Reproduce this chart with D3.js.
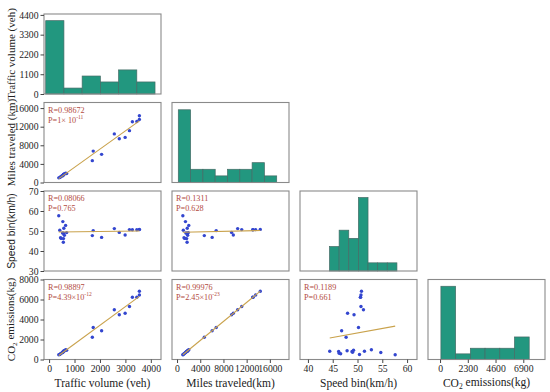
<!DOCTYPE html>
<html><head><meta charset="utf-8">
<script src="https://cdn.jsdelivr.net/npm/d3@7"></script>
<style>body{margin:0;background:#fff}svg{display:block}</style>
</head><body>
<svg id="c" width="550" height="392"></svg>
<script>
// ---- data ----
const traffic = [3550,3550,3450,3275,3160,2990,2760,2565,2065,1735,1700, 560,565,480,450,600,565,690,530,420,580,650,540,380];
const miles   = [14350,13550,13100,13050,11150,9700,9400,10450,6050,6750,4700, 1730,1650,1330,1200,1830,1680,1950,1520,1080,1760,2020,1450,1000];
const speed   = [50.8,50.7,50.6,50.6,50.7,48.0,49.3,51.2,46.8,50.2,47.7, 44.4,46.2,46.3,46.6,47.9,48.9,49.2,49.0,50.4,51.4,52.8,54.7,57.6];
const co2     = [6830,6450,6230,6230,5300,4630,4470,4970,2870,3200,2230, 830,800,630,570,870,800,930,730,500,830,970,700,470];

const varNames = ["Traffic volume (veh)", "Miles traveled (km)", "Speed bin(km/h)", "CO2 emissions(kg)"];
const xTitles  = ["Traffic volume (veh)", "Miles traveled(km)", "Speed bin(km/h)", "CO2 emissions(kg)"];

const xDomains = [[-200,4400],[-870,19300],[38.4,62],[-1000,8700]];
const yDomains = [[0,4450],[0,17200],[30,70],[0,8000]];
const xTicks = [[0,1000,2000,3000,4000],[0,4000,8000,12000,16000],[40,45,50,55,60],[0,2300,4600,6900]];
const yTicks = [[0,1100,2200,3300,4400],[0,4000,8000,12000,16000],[30,40,50,60,70],[0,2000,4000,6000,8000]];

// diagonal histograms
const histTraffic = [4080,330,1000,670,1340,670];
const histMiles   = [11,2,2,1,2,2,3,1];
const histSpeed   = [3,5,4,9,1,1,1];
const histCO2     = [13,1,2,2,2,4];
const histCounts = [histTraffic, histMiles, histSpeed, histCO2];
const histRange  = [[-133,4165],[216,17180],[44.35,57.95],[70,7390]];
const histYMax   = [4450, 12.1, 9.8, 14.2];

// correlation annotations  key "row-col"
const corrR = {"1-0":"0.98672","2-0":"0.08066","2-1":"0.1311","3-0":"0.98897","3-1":"0.99976","3-2":"0.1189"};
const corrP = {"1-0":["1× 10","-11"],"2-0":["0.765",""],"2-1":["0.628",""],"3-0":["4.39×10","-12"],"3-1":["2.45×10","-23"],"3-2":["0.661",""]};

// ---- layout ----
const colX = [44,172,300,428], W = 117;
const rowY = [14,102.5,191,279.5], H = 80;
const SERIF = "'Liberation Serif','Times New Roman',serif";
const SANS = "'Liberation Sans',Arial,sans-serif";
const HIST = "#22977f", HIST_EDGE = "#456b66", FRAME = "#8a8a8a";
const PT = "#3346cf", LINE = "#c9a24c", TXT = "#b24a3e";

const vars = [traffic, miles, speed, co2];
const svg = d3.select("#c");
const xs = xDomains.map((d,i)=>d3.scaleLinear().domain(d).range([colX[i], colX[i]+W]));
const ys = yDomains.map((d,i)=>d3.scaleLinear().domain(d).range([rowY[i]+H, rowY[i]]));

function addLabel(sel, str){
  const parts = str.split("CO2");
  if (parts.length === 1){ sel.text(str); return; }
  sel.append("tspan").text(parts[0] + "CO");
  sel.append("tspan").attr("font-size","0.65em").attr("dy","0.3em").text("2");
  sel.append("tspan").attr("dy","-0.3em").text(parts[1]);
}

for (let r=0;r<4;r++) for (let c=0;c<=r;c++){
  const g = svg.append("g");
  if (r===c){
    const counts = histCounts[r];
    const [a,b] = histRange[r];
    const bw = (b-a)/counts.length;
    const hy = d3.scaleLinear().domain([0,histYMax[r]]).range([rowY[r]+H, rowY[r]]);
    g.selectAll("rect").data(counts).join("rect")
      .attr("x",(d,i)=>xs[c](a+i*bw)).attr("width",xs[c](a+bw)-xs[c](a))
      .attr("y",d=>hy(d)).attr("height",d=>hy(0)-hy(d))
      .attr("fill",HIST).attr("stroke",HIST_EDGE).attr("stroke-width",0.7);
  } else {
    const X = vars[c], Y = vars[r];
    const pts = X.map((x,i)=>[x,Y[i]]);
    const mx = d3.mean(X), my = d3.mean(Y);
    const slope = d3.sum(pts,p=>(p[0]-mx)*(p[1]-my))/d3.sum(pts,p=>(p[0]-mx)**2);
    const x0 = d3.min(X), x1 = d3.max(X);
    const line = [[x0, my+slope*(x0-mx)],[x1, my+slope*(x1-mx)]];
    g.selectAll("circle").data(pts).join("circle")
      .attr("cx",p=>xs[c](p[0])).attr("cy",p=>ys[r](p[1])).attr("r",1.7).attr("fill",PT);
    g.append("path").attr("d",d3.line().x(p=>xs[c](p[0])).y(p=>ys[r](p[1]))(line))
      .attr("stroke",LINE).attr("stroke-width",1.1).attr("fill","none");
    const key = r+"-"+c;
    const t = g.append("g").attr("font-family",SERIF).attr("font-size",8.2).attr("fill",TXT);
    t.append("text").attr("x",colX[c]+4).attr("y",rowY[r]+10).text("R="+corrR[key]);
    const p = t.append("text").attr("x",colX[c]+4).attr("y",rowY[r]+20);
    p.append("tspan").text("P="+corrP[key][0]);
    if (corrP[key][1]) p.append("tspan").attr("font-size",5.5).attr("dy",-3.5).text(corrP[key][1]);
  }
  g.append("rect").attr("x",colX[c]).attr("y",rowY[r]).attr("width",W).attr("height",H)
    .attr("fill","none").attr("stroke",FRAME).attr("stroke-width",1.1);
}

// left axes
for (let r=0;r<4;r++){
  const ax = svg.append("g").attr("transform",`translate(${colX[0]},0)`)
    .call(d3.axisLeft(ys[r]).tickValues(yTicks[r]).tickSize(3.5).tickPadding(2).tickFormat(d3.format("d")));
  ax.select(".domain").remove();
  ax.selectAll("text").attr("font-family",SERIF).attr("font-size",9.7).attr("fill","#222");
  ax.selectAll("line").attr("stroke","#444");
  const yt = svg.append("text").attr("transform",`translate(15,${rowY[r]+H/2}) rotate(-90)`)
    .attr("text-anchor","middle").attr("font-family", r===2?SANS:SERIF)
    .attr("font-size", r===2?10.3:11).attr("fill","#222");
  addLabel(yt, varNames[r]);
}
// bottom axes
for (let c=0;c<4;c++){
  const ax = svg.append("g").attr("transform",`translate(0,${rowY[3]+H})`)
    .call(d3.axisBottom(xs[c]).tickValues(xTicks[c]).tickSize(3.5).tickPadding(2).tickFormat(d3.format("d")));
  ax.select(".domain").remove();
  ax.selectAll("text").attr("font-family",SERIF).attr("font-size",9.7).attr("fill","#222");
  ax.selectAll("line").attr("stroke","#444");
  const xt = svg.append("text").attr("x",colX[c]+W/2).attr("y",387)
    .attr("text-anchor","middle").attr("font-family",SERIF).attr("font-size",11.5).attr("fill","#222");
  addLabel(xt, xTitles[c]);
}
</script>
</body></html>
